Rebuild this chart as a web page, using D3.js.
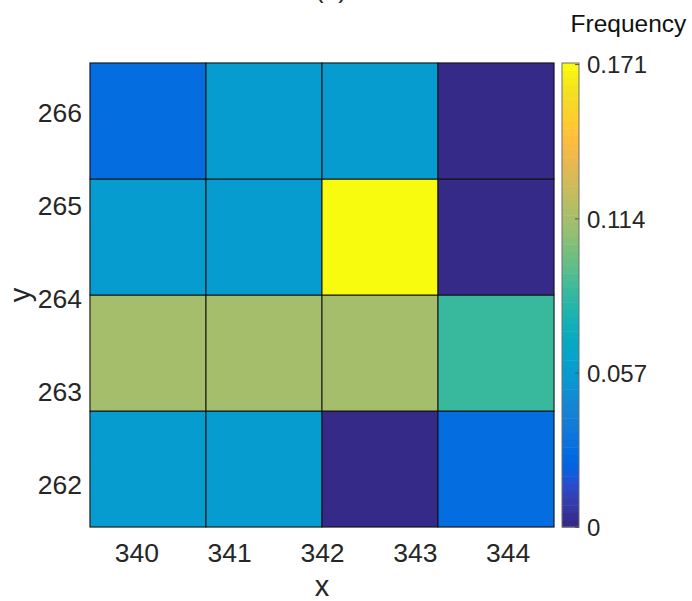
<!DOCTYPE html>
<html>
<head>
<meta charset="utf-8">
<script src="https://cdn.jsdelivr.net/npm/d3@7"></script>
<style>
  body { margin: 0; background: #fff; }
  svg text { font-family: "Liberation Sans", Arial, sans-serif; fill: #262626; }
</style>
</head>
<body>
<div class="chart"></div>
<script>
// bin edges and tick labels
const xEdges = [339.5, 340.75, 342, 343.25, 344.5];
const yEdges = [261.5, 262.75, 264, 265.25, 266.5];
const xTicks = [340, 341, 342, 343, 344];
const yTicks = [262, 263, 264, 265, 266];
const cbTicks = [0, 0.057, 0.114, 0.171];
const cbMax = 0.1714;

// frequency per bin, rows from bottom (y bin 0) to top
const row0 = [0.0571, 0.0571, 0, 0.0286];
const row1 = [0.1143, 0.1143, 0.1143, 0.0857];
const row2 = [0.0571, 0.0571, 0.1714, 0];
const row3 = [0.0286, 0.0571, 0.0571, 0];
const rows = [row0, row1, row2, row3];

// parula colormap, 64 levels
const parula = [
    "#352a87", "#363093", "#3637a0", "#353dad", "#3243ba", "#2c4ac7", "#2053d4", "#0f5cdd",
    "#0363e1", "#0268e1", "#046de0", "#0871de", "#0d75dc", "#1079da", "#127dd8", "#1481d6",
    "#1485d4", "#1389d3", "#108ed2", "#0c93d2", "#0998d1", "#079ccf", "#06a0cd", "#06a4ca",
    "#06a7c6", "#07a9c2", "#0aacbe", "#0faeb9", "#15b1b4", "#1db3af", "#25b5a9", "#2eb7a4",
    "#38b99e", "#42bb98", "#4dbc92", "#59bd8c", "#65be86", "#71bf80", "#7cbf7b", "#87bf77",
    "#92bf73", "#9cbf6f", "#a5be6b", "#aebe67", "#b7bd64", "#c0bc60", "#c8bc5d", "#d1bb59",
    "#d9ba56", "#e1b952", "#e9b94e", "#f1b94a", "#f8bb44", "#fdbe3d", "#ffc337", "#fec832",
    "#fcce2e", "#fad32a", "#f7d826", "#f5de21", "#f5e41d", "#f5eb18", "#f6f313", "#f9fb0e"
];
const nLevels = parula.length;
const colorOf = v => parula[Math.min(nLevels - 1, Math.floor(v / cbMax * nLevels + 1e-9))];

const w = 692, h = 601;
const plot = { left: 90, right: 554, top: 63, bottom: 527 };
const tickFont = 26.5;

const svg = d3.select("div.chart")
    .append("svg")
    .attr("width", w)
    .attr("height", h);

const xScale = d3.scaleLinear()
    .domain([339.5, 344.5])
    .range([plot.left, plot.right]);

const yScale = d3.scaleLinear()
    .domain([261.5, 266.5])
    .range([plot.bottom, plot.top]);

// build cells
const cells = [];
rows.forEach((r, j) => {
    r.forEach((v, i) => {
        cells.push({ x0: xEdges[i], x1: xEdges[i + 1], y0: yEdges[j], y1: yEdges[j + 1], v: v });
    });
});

// axes box
svg.append("rect")
    .attr("x", plot.left)
    .attr("y", plot.top)
    .attr("width", plot.right - plot.left)
    .attr("height", plot.bottom - plot.top)
    .attr("fill", "none")
    .attr("stroke", "#a6a6a6")
    .attr("stroke-width", 1);

svg.selectAll("rect.cell")
    .data(cells)
    .enter()
    .append("rect")
    .attr("class", "cell")
    .attr("x", d => xScale(d.x0))
    .attr("y", d => yScale(d.y1))
    .attr("width", d => xScale(d.x1) - xScale(d.x0))
    .attr("height", d => yScale(d.y0) - yScale(d.y1))
    .attr("fill", d => colorOf(d.v))
    .attr("stroke", "#111")
    .attr("stroke-width", 1);

// axes
const xAxis = d3.axisBottom(xScale).tickValues(xTicks).tickFormat(d3.format("d")).tickSize(0).tickPadding(16);
const gx = svg.append("g")
    .attr("transform", "translate(0," + plot.bottom + ")")
    .call(xAxis);
gx.select(".domain").remove();
gx.selectAll("text").attr("font-size", tickFont).attr("font-family", null);

const yAxis = d3.axisLeft(yScale).tickValues(yTicks).tickFormat(d3.format("d")).tickSize(0).tickPadding(8);
const gy = svg.append("g")
    .attr("transform", "translate(" + plot.left + ",0)")
    .call(yAxis);
gy.select(".domain").remove();
gy.selectAll("text").attr("font-size", tickFont).attr("font-family", null).attr("dy", "0.47em");

// axis labels
svg.append("text")
    .attr("x", (plot.left + plot.right) / 2)
    .attr("y", 596)
    .attr("text-anchor", "middle")
    .attr("font-size", 29)
    .text("x");

svg.append("text")
    .attr("transform", "translate(30," + ((plot.top + plot.bottom) / 2) + ") rotate(-90)")
    .attr("text-anchor", "middle")
    .attr("font-size", 29)
    .text("y");

// title (mostly cut off at the top)
svg.append("text")
    .attr("x", 331)
    .attr("y", -2)
    .attr("text-anchor", "middle")
    .attr("font-size", 26)
    .text("(a)");

// colorbar
const cb = { left: 562, right: 579 };
const cScale = d3.scaleLinear()
    .domain([0, cbMax])
    .range([plot.bottom, plot.top]);

const bands = d3.range(nLevels);
svg.selectAll("rect.band")
    .data(bands)
    .enter()
    .append("rect")
    .attr("class", "band")
    .attr("x", cb.left)
    .attr("y", k => cScale((k + 1) / nLevels * cbMax))
    .attr("width", cb.right - cb.left)
    .attr("height", k => cScale(k / nLevels * cbMax) - cScale((k + 1) / nLevels * cbMax) + 0.5)
    .attr("fill", k => parula[k]);

svg.append("rect")
    .attr("x", cb.left)
    .attr("y", plot.top)
    .attr("width", cb.right - cb.left)
    .attr("height", plot.bottom - plot.top)
    .attr("fill", "none")
    .attr("stroke", "#6e6e6e")
    .attr("stroke-width", 1);

const cAxis = d3.axisRight(cScale).tickValues(cbTicks).tickFormat(d => d === 0 ? "0" : d3.format(".3f")(d)).tickSize(0).tickPadding(8);
const gc = svg.append("g")
    .attr("transform", "translate(" + cb.right + ",0)")
    .call(cAxis);
gc.select(".domain").remove();
gc.selectAll("text").attr("font-size", 24).attr("font-family", null).attr("dy", "0.36em");
gc.selectAll(".tick")
    .append("line")
    .attr("x1", -4)
    .attr("x2", 0)
    .attr("stroke", "#555")
    .attr("stroke-width", 1);

svg.append("text")
    .attr("x", 628.5)
    .attr("y", 32)
    .attr("text-anchor", "middle")
    .attr("font-family", "'Open Sans', Lato, sans-serif")
    .attr("font-size", 24.5)
    .style("fill", "#111")
    .text("Frequency");
</script>
</body>
</html>
